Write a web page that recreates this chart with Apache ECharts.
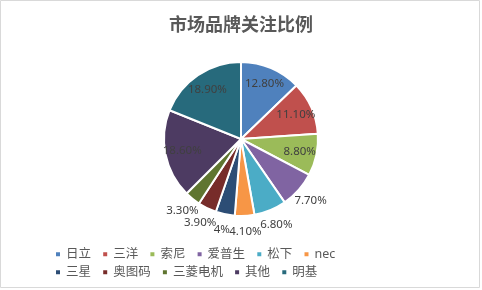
<!DOCTYPE html>
<html><head><meta charset="utf-8">
<script src="https://cdn.jsdelivr.net/npm/echarts@6/dist/echarts.min.js"></script>
<style>html,body{margin:0;padding:0;background:#fff}#c{width:482px;height:290px}</style>
</head><body><div id="c"></div>
<script>
const titleText = '市场品牌关注比例';
const categories = ['日立','三洋','索尼','爱普生','松下','nec','三星','奥图码','三菱电机','其他','明基'];
const values = [12.8, 11.1, 8.8, 7.7, 6.8, 4.1, 4, 3.9, 3.3, 18.6, 18.9];
const valueLabels = ['12.80%','11.10%','8.80%','7.70%','6.80%','4.10%','4%','3.90%','3.30%','18.60%','18.90%'];
const insideLabel = [true,true,true,false,false,false,false,false,false,true,true];
const colors = ['#4F81BD','#C0504D','#9BBB59','#8064A2','#4BACC6','#F79646','#2C4D75','#772C2A','#5F7530','#4D3B62','#276A7C'];

const font = '"Noto Sans", "Noto Sans CJK SC", sans-serif';
const mainData = categories.map((n,i)=>({name:n, value:values[i], itemStyle:{color:colors[i]}}));
function labelData(wantInside){
  return categories.map((n,i)=>({name:n, value:values[i],
    label:{show: insideLabel[i]===wantInside}}));
}
const labelCommon = {position:'inside', fontSize:11.5, color:'#404040', fontFamily:font,
  formatter:(p)=>valueLabels[p.dataIndex]};
const ghost = {type:'pie', center:[241,139], startAngle:90, clockwise:true, silent:true, avoidLabelOverlap:false,
  labelLayout:{hideOverlap:false},
  itemStyle:{color:'rgba(0,0,0,0)', borderWidth:0}, labelLine:{show:false}, emphasis:{disabled:true}, tooltip:{show:false}};

const chart = echarts.init(document.getElementById('c'), null, {renderer:'canvas'});
chart.setOption({
  animation:false,
  title:{text:titleText, left:'center', top:10, textStyle:{fontSize:18, fontWeight:'bold', color:'#595959', fontFamily:'"Noto Sans CJK SC", serif'}},
  legend:[
    {data:categories.slice(0,6), left:49, top:243, itemWidth:6, itemHeight:6, itemGap:10.2, icon:'rect',
     textStyle:{fontSize:12.5, color:'#595959', width:43, fontFamily:font, padding:[0,0,0,0]}},
    {data:categories.slice(6), left:49, top:261, itemWidth:6, itemHeight:6, itemGap:10.2, icon:'rect',
     textStyle:{fontSize:12.5, color:'#595959', width:43, fontFamily:font, padding:[0,0,0,0]}}
  ],
  graphic:[{type:'rect', shape:{x:0.5,y:0.5,width:479,height:287}, style:{fill:'none', stroke:'#d9d9d9', lineWidth:1}, silent:true, z:-1}],
  series:[
    {type:'pie', name:'main', center:[241,139], radius:[0,77], startAngle:90, clockwise:true,
     data:mainData, label:{show:false}, labelLine:{show:false},
     itemStyle:{borderColor:'#fff', borderWidth:2}},
    Object.assign({}, ghost, {name:'in', radius:[0,114], data:labelData(true), label:labelCommon}),
    Object.assign({}, ghost, {name:'out', radius:[0,180], data:labelData(false), label:labelCommon})
  ]
});
</script></body></html>
